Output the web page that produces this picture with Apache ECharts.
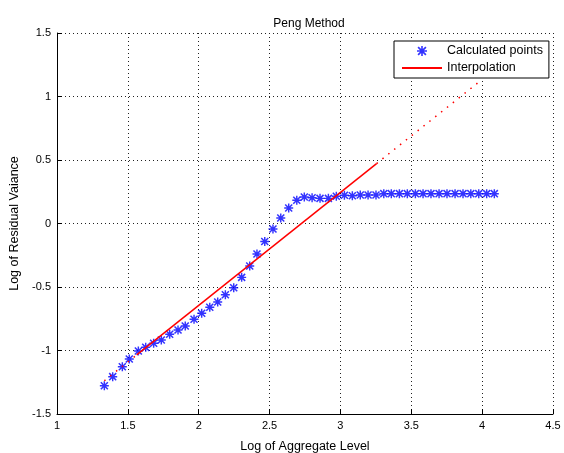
<!DOCTYPE html>
<html>
<head>
<meta charset="utf-8">
<script src="https://cdn.jsdelivr.net/npm/echarts@6/dist/echarts.min.js"></script>
<style>html,body{margin:0;padding:0;background:#fff;}#c{width:564px;height:453px;}</style>
</head>
<body>
<div id="c"></div>
<script>
// Calculated points
var pointX = [1.334,1.393,1.461,1.510,1.574,1.626,1.682,1.736,1.795,1.854,1.905,1.967,2.021,2.078,2.134,2.188,2.247,2.303,2.360,2.411,2.466,2.524,2.579,2.635,2.692,2.745,2.800,2.856,2.915,2.971,3.028,3.084,3.140,3.195,3.251,3.306,3.359,3.416,3.472,3.529,3.583,3.639,3.696,3.752,3.809,3.865,3.920,3.976,4.032,4.086];
var pointY = [-1.277,-1.206,-1.128,-1.067,-1.004,-0.975,-0.943,-0.917,-0.872,-0.839,-0.807,-0.754,-0.707,-0.660,-0.618,-0.561,-0.506,-0.424,-0.335,-0.240,-0.142,-0.043,0.043,0.122,0.183,0.209,0.203,0.198,0.198,0.214,0.222,0.219,0.224,0.224,0.224,0.235,0.235,0.235,0.235,0.235,0.235,0.235,0.235,0.235,0.235,0.235,0.235,0.235,0.235,0.235];
// Interpolation line: solid part and dotted extensions
var interpSolidX = [1.562, 3.255];
var interpSolidY = [-1.035, 0.472];
var interpLowX = [1.334, 1.562];
var interpLowY = [-1.238, -1.035];
var interpHighX = [3.255, 3.976];
var interpHighY = [0.472, 1.113];
var xTicks = [1, 1.5, 2, 2.5, 3, 3.5, 4, 4.5];
var yTicks = [-1.5, -1, -0.5, 0, 0.5, 1, 1.5];

function pairs(xs, ys){ return xs.map(function(x,i){ return [x, ys[i]]; }); }

var FONT = 'Liberation Sans, Arial, Helvetica, sans-serif';
var star = 'path://M4.2 0 L5.8 0 L5.8 10 L4.2 10 Z M0 4.2 L10 4.2 L10 5.8 L0 5.8 Z M1.7 0.5 L9.5 8.3 L8.3 9.5 L0.5 1.7 Z M8.3 0.5 L9.5 1.7 L1.7 9.5 L0.5 8.3 Z';

var chart = echarts.init(document.getElementById('c'), null, {renderer:'canvas'});
var axisCommon = {
  type: 'value',
  axisLine: {show: true, onZero: false, lineStyle: {color: '#000', width: 1}},
  axisTick: {show: true, inside: true, length: 5, lineStyle: {color: '#000'}},
  splitLine: {show: true, lineStyle: {color: '#222', width: 1, type: [1, 3]}},
  axisLabel: {color: '#000', fontSize: 11, fontFamily: FONT, margin: 6},
  nameTextStyle: {color: '#000', fontSize: 12.5, fontFamily: FONT}
};
chart.setOption({
  animation: false,
  backgroundColor: '#fff',
  title: {text: 'Peng Method', left: 304, top: 13, textAlign: 'center',
    textStyle: {fontSize: 12, fontWeight: 'normal', color: '#000', fontFamily: FONT}},
  grid: {left: 57, right: 11, top: 33, bottom: 39, containLabel: false, outerBoundsMode: 'none'},
  legend: {
    orient: 'vertical', left: 394, top: 41,
    data: [
      {name: 'Calculated points'},
      {name: 'Interpolation', icon: 'path://M0 0 L40 0 L40 2 L0 2 Z'}
    ],
    borderColor: '#000', borderWidth: 1, backgroundColor: '#fff',
    padding: [3, 6, 3, 8], itemGap: 3, itemWidth: 40, itemHeight: 10,
    textStyle: {fontSize: 12.5, fontFamily: FONT, color: '#000', lineHeight: 14}
  },
  xAxis: Object.assign({}, axisCommon, {
    min: 1, max: 4.5, interval: 0.5,
    name: 'Log of Aggregate Level', nameLocation: 'middle', nameGap: 26,
    axisLabel: Object.assign({}, axisCommon.axisLabel, {
      formatter: function(v){ return xTicks.indexOf(v) >= 0 ? String(v) : ''; }})
  }),
  yAxis: Object.assign({}, axisCommon, {
    min: -1.5, max: 1.5, interval: 0.5,
    name: 'Log of Residual Vaiance', nameLocation: 'middle', nameGap: 30,
    axisLabel: Object.assign({}, axisCommon.axisLabel, {
      formatter: function(v){ return yTicks.indexOf(v) >= 0 ? String(v) : ''; }})
  }),
  series: [
    {name: 'Interpolation', type: 'line', data: pairs(interpSolidX, interpSolidY),
      symbol: 'none', lineStyle: {color: '#ff0000', width: 1.5}, itemStyle: {color: '#ff0000'}, z: 3},
    {name: 'InterpLow', type: 'line', data: pairs(interpLowX, interpLowY),
      symbol: 'none', lineStyle: {color: '#ff0000', width: 1.5, type: [1.5, 6]}, z: 3},
    {name: 'InterpHigh', type: 'line', data: pairs(interpHighX, interpHighY),
      symbol: 'none', lineStyle: {color: '#ff0000', width: 1.5, type: [1.5, 6]}, z: 3},
    {name: 'Calculated points', type: 'scatter', data: pairs(pointX, pointY),
      symbol: star, symbolSize: 9, itemStyle: {color: '#0000ff'}, z: 2}
  ]
});
</script>
</body>
</html>
